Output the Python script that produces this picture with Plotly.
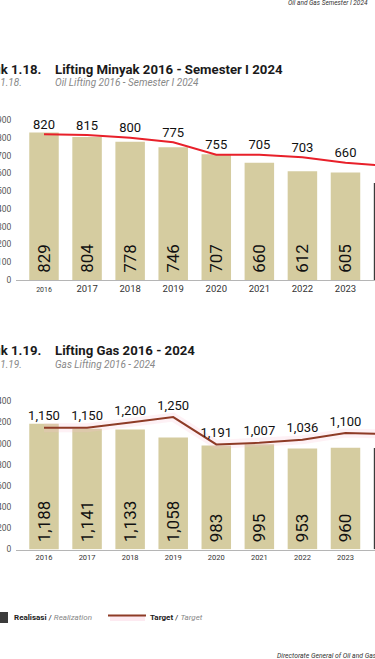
import plotly.graph_objects as go

# ---------------- data ----------------
years = ["2016", "2017", "2018", "2019", "2020", "2021", "2022", "2023", "2024"]

oil_realization = [829, 804, 778, 746, 707, 660, 612, 605, 545]
oil_target = [820, 815, 800, 775, 705, 705, 690, 660, 640]
oil_target_labels = ["820", "815", "800", "775", "755", "705", "703", "660", "635"]

gas_realization = [1188, 1141, 1133, 1058, 983, 995, 953, 960, 958]
gas_target = [1150, 1150, 1200, 1250, 992, 1007, 1036, 1100, 1090]
gas_target_labels = ["1,150", "1,150", "1,200", "1,250", "1,191", "1,007", "1,036", "1,100", "1,033"]

oil_yticks = [0, 100, 200, 300, 400, 500, 600, 700, 800, 900]
gas_yticks = [0, 200, 400, 600, 800, 1000, 1200, 1400]

# ---------------- style ----------------
W, H = 375, 659
FONT = "Roboto"
BAR = "#d5cca0"
BAR_LAST = "#3b3b3b"
OIL_LINE = "#e8202a"
GAS_LINE = "#8e3b26"
GAS_GLOW = "rgba(250,190,210,0.22)"


def px_x(p):
    return p / W


def px_y(p):
    return 1 - p / H


bar_colors = [BAR] * (len(years) - 1) + [BAR_LAST]

fig = go.Figure()

# ---- oil chart ----
fig.add_trace(go.Bar(
    x=years, y=oil_realization, xaxis="x", yaxis="y",
    marker=dict(color=bar_colors, line=dict(width=0)),
    text=[f" {v:,}" for v in oil_realization], textposition="inside",
    insidetextanchor="start", textangle=-90, constraintext="none",
    textfont=dict(family=FONT, size=17, color="#111"),
    hoverinfo="skip",
))
fig.add_trace(go.Scatter(
    x=years, y=oil_target, xaxis="x", yaxis="y", mode="lines+markers+text",
    line=dict(color=OIL_LINE, width=2),
    marker=dict(size=2, color="rgba(0,0,0,0)"),
    text=oil_target_labels, textposition="top center",
    textfont=dict(family=FONT, size=13, color="#111"), cliponaxis=False,
    hoverinfo="skip",
))

# ---- gas chart ----
fig.add_trace(go.Bar(
    x=years, y=gas_realization, xaxis="x2", yaxis="y2",
    marker=dict(color=bar_colors, line=dict(width=0)),
    text=[f" {v:,}" for v in gas_realization], textposition="inside",
    insidetextanchor="start", textangle=-90, constraintext="none",
    textfont=dict(family=FONT, size=17, color="#111"),
    hoverinfo="skip",
))
fig.add_trace(go.Scatter(
    x=years, y=gas_target, xaxis="x2", yaxis="y2", mode="lines",
    line=dict(color=GAS_GLOW, width=9), hoverinfo="skip",
))
fig.add_trace(go.Scatter(
    x=years, y=gas_target, xaxis="x2", yaxis="y2", mode="lines+markers+text",
    line=dict(color=GAS_LINE, width=2),
    marker=dict(size=5, color="rgba(0,0,0,0)"),
    text=gas_target_labels, textposition="top center",
    textfont=dict(family=FONT, size=13, color="#111"), cliponaxis=False,
    hoverinfo="skip",
))

# ---------------- axes ----------------
plot_left = 16
cat_px = 43.07
x_lo = -(44 - plot_left) / cat_px
x_hi = x_lo + (W - plot_left) / cat_px

oil_zero, oil_scale, oil_top = 280, 0.1778, 950
gas_zero, gas_scale, gas_top = 549.5, 0.1059, 1500

oil_ticktext = ['<span style="font-size:7px">2016</span>'] + years[1:]

xcommon = dict(type="category", range=[x_lo, x_hi], showgrid=False, zeroline=False,
               showline=True, linecolor="#b5b5b5", linewidth=1, ticks="",
               automargin=False, fixedrange=True)
ycommon = dict(showgrid=False, zeroline=False, showline=False,
               ticks="outside", ticklen=2, tickcolor="rgba(0,0,0,0)",
               automargin=False,
               tickfont=dict(family=FONT, size=8.5, color="#555"), fixedrange=True)

fig.update_layout(
    width=W, height=H, margin=dict(l=0, r=0, t=0, b=0, autoexpand=False),
    paper_bgcolor="white", plot_bgcolor="white",
    showlegend=False, bargap=0.315,
    font=dict(family=FONT, color="#222"),
    xaxis=dict(xcommon, domain=[px_x(plot_left), 1], anchor="y",
               tickmode="array", tickvals=years, ticktext=oil_ticktext,
               tickfont=dict(family=FONT, size=9.5, color="#333")),
    yaxis=dict(ycommon, anchor="x", range=[0, oil_top], tickvals=oil_yticks,
               domain=[px_y(oil_zero), px_y(oil_zero - oil_top * oil_scale)]),
    xaxis2=dict(xcommon, domain=[px_x(plot_left), 1], anchor="y2",
                tickfont=dict(family=FONT, size=7.5, color="#333")),
    yaxis2=dict(ycommon, anchor="x2", range=[0, gas_top], tickvals=gas_yticks,
                domain=[px_y(gas_zero), px_y(gas_zero - gas_top * gas_scale)]),
)

# ---------------- texts ----------------
ann = []


def text(x, y, s, size, color="#222", anchor="left", yanchor="middle"):
    ann.append(dict(x=px_x(x), y=px_y(y), xref="paper", yref="paper", text=s,
                    showarrow=False, xanchor=anchor, yanchor=yanchor,
                    font=dict(family=FONT, size=size, color=color)))


text(370, 3, "<i>Oil and Gas Semester I 2024</i>", 6.5, "#333", anchor="right")

text(43, 69, "<b>Grafik 1.18.</b>", 13.2, "#1a1a1a", anchor="right")
text(53, 69, "<b>Lifting Minyak 2016 - Semester I 2024</b>", 13.2, "#1a1a1a")
text(24, 82.5, "<i>Graph 1.18.</i>", 10, "#888", anchor="right")
text(53, 82.5, "<i>Oil Lifting 2016 - Semester I 2024</i>", 10, "#888")

text(43, 350.5, "<b>Grafik 1.19.</b>", 13.2, "#1a1a1a", anchor="right")
text(53, 350.5, "<b>Lifting Gas 2016 - 2024</b>", 13.2, "#1a1a1a")
text(24, 364, "<i>Graph 1.19.</i>", 10, "#888", anchor="right")
text(53, 364, "<i>Gas Lifting 2016 - 2024</i>", 10, "#888")

# legend
text(12, 617.5, '<b>Realisasi</b> / <i><span style="color:#888">Realization</span></i>', 8, "#222")
text(148, 617.5, '<b>Target</b> / <i><span style="color:#888">Target</span></i>', 8, "#222")

text(275, 656, "<i>Directorate General of Oil and Gas</i>", 6.8, "#333")

shapes = [
    dict(type="rect", xref="paper", yref="paper", x0=px_x(-4), x1=px_x(8),
         y0=px_y(623), y1=px_y(612), fillcolor="#3b3b3b", line=dict(width=0)),
    dict(type="line", xref="paper", yref="paper", x0=px_x(110), x1=px_x(145),
         y0=px_y(618.5), y1=px_y(618.5), line=dict(color="rgba(250,195,215,0.35)", width=5)),
    dict(type="line", xref="paper", yref="paper", x0=px_x(108), x1=px_x(146),
         y0=px_y(615.5), y1=px_y(615.5), line=dict(color=GAS_LINE, width=2)),
]

fig.update_layout(annotations=ann, shapes=shapes)

fig.write_html(
    "out.html",
    config={"displayModeBar": False},
    post_script="document.body.style.margin='0';document.body.style.overflow='hidden';",
)
